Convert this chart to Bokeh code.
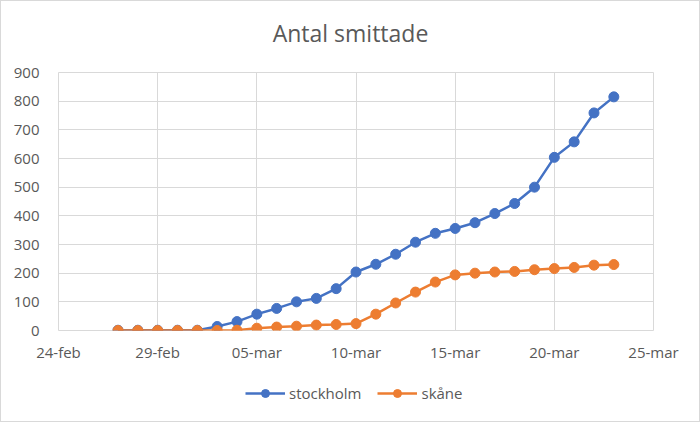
import pandas as pd
from bokeh.plotting import figure
from bokeh.layouts import column
from bokeh.models import FixedTicker, Legend, LegendItem, Range1d, Label
from bokeh.embed import file_html
from bokeh.resources import INLINE

# ---- data ----
dates = ["2020-02-27", "2020-02-28", "2020-02-29", "2020-03-01", "2020-03-02",
         "2020-03-03", "2020-03-04", "2020-03-05", "2020-03-06", "2020-03-07",
         "2020-03-08", "2020-03-09", "2020-03-10", "2020-03-11", "2020-03-12",
         "2020-03-13", "2020-03-14", "2020-03-15", "2020-03-16", "2020-03-17",
         "2020-03-18", "2020-03-19", "2020-03-20", "2020-03-21", "2020-03-22",
         "2020-03-23"]
stockholm = [1, 1, 1, 1, 1, 14, 31, 57, 77, 100, 112, 146, 204, 231, 266, 308,
             339, 356, 376, 408, 443, 500, 604, 658, 759, 815]
skane = [0, 0, 0, 0, 0, 0, 1, 8, 12, 15, 19, 21, 24, 57, 96, 134,
         169, 194, 200, 204, 206, 212, 216, 220, 228, 230]
tick_dates = ["2020-02-24", "2020-02-29", "2020-03-05", "2020-03-10",
              "2020-03-15", "2020-03-20", "2020-03-25"]
tick_labels = ["24-feb", "29-feb", "05-mar", "10-mar", "15-mar", "20-mar", "25-mar"]
y_ticks = [0, 100, 200, 300, 400, 500, 600, 700, 800, 900]
title_text = "Antal smittade"
series_names = ["stockholm", "skåne"]

x = pd.to_datetime(dates)
tick_ms = [int(pd.Timestamp(d).timestamp() * 1000) for d in tick_dates]

BLUE = "#4472C4"
ORANGE = "#ED7D31"
GRID = "#d9d9d9"
TXT = "#595959"
FONT = "Open Sans"
BORDER = "1px solid #d9d9d9"


def strip(height):
    f = figure(width=700, height=height, output_backend="svg", toolbar_location=None,
               x_axis_location=None, y_axis_location=None,
               min_border_left=0, min_border_right=0,
               min_border_top=0, min_border_bottom=0,
               x_range=Range1d(0, 1), y_range=Range1d(0, 1))
    f.grid.visible = False
    f.outline_line_color = None
    f.border_fill_color = "white"
    f.background_fill_color = "white"
    return f


# ---- title strip ----
t = strip(60)
t.styles = {"border-top": BORDER, "border-left": BORDER, "border-right": BORDER,
            "box-sizing": "border-box"}
t.add_layout(Label(x=292, y=29, x_units="screen", y_units="screen",
                   text=title_text, text_align="center", text_baseline="middle",
                   text_font=FONT, text_font_size="23px", text_color=TXT))

# ---- main chart ----
p = figure(width=700, height=304, x_axis_type="datetime",
           output_backend="svg", toolbar_location=None,
           min_border_left=57, min_border_right=48,
           min_border_top=12, min_border_bottom=33)
p.x_range = Range1d(tick_ms[0], tick_ms[-1])
p.y_range = Range1d(y_ticks[0], y_ticks[-1])

p.outline_line_color = GRID
p.outline_line_width = 1
p.background_fill_color = "white"
p.border_fill_color = "white"
p.styles = {"border-left": BORDER, "border-right": BORDER, "box-sizing": "border-box"}

p.xgrid.grid_line_color = GRID
p.ygrid.grid_line_color = GRID
p.xaxis.ticker = FixedTicker(ticks=tick_ms)
p.xaxis.major_label_overrides = {tk: lb for tk, lb in zip(tick_ms, tick_labels)}
p.yaxis.ticker = FixedTicker(ticks=y_ticks)

for ax in (p.xaxis, p.yaxis):
    ax.axis_line_color = None
    ax.major_tick_line_color = None
    ax.minor_tick_line_color = None
    ax.major_tick_out = 0
    ax.major_tick_in = 0
    ax.major_label_text_font = FONT
    ax.major_label_text_font_size = "15px"
    ax.major_label_text_color = TXT
p.xaxis.major_label_standoff = 11
p.yaxis.major_label_standoff = 19

p.line(x, stockholm, line_color=BLUE, line_width=2.5)
p.scatter(x, stockholm, size=10, fill_color=BLUE, line_color=BLUE)
p.line(x, skane, line_color=ORANGE, line_width=2.5)
p.scatter(x, skane, size=10, fill_color=ORANGE, line_color=ORANGE)

# ---- legend strip (its renderers use the same series, which lie outside
# this strip's 0..1 ranges, so only the legend itself is visible) ----
q = strip(58)
q.styles = {"border-bottom": BORDER, "border-left": BORDER, "border-right": BORDER,
            "box-sizing": "border-box"}
ql1 = q.line(x, stockholm, line_color=BLUE, line_width=2.5)
qs1 = q.scatter(x, stockholm, size=10, fill_color=BLUE, line_color=BLUE)
ql2 = q.line(x, skane, line_color=ORANGE, line_width=2.5)
qs2 = q.scatter(x, skane, size=10, fill_color=ORANGE, line_color=ORANGE)

legend = Legend(items=[LegendItem(label=series_names[0], renderers=[ql1, qs1]),
                       LegendItem(label=series_names[1], renderers=[ql2, qs2])],
                orientation="horizontal", location=(187, 19),
                glyph_width=40, glyph_height=20, label_standoff=4, spacing=16,
                padding=0, margin=0, border_line_color=None,
                background_fill_alpha=0,
                label_text_font=FONT, label_text_font_size="15px",
                label_text_color=TXT)
q.add_layout(legend, "center")

layout = column(t, p, q, spacing=0)
open("out.html", "w").write(file_html(layout, INLINE))
